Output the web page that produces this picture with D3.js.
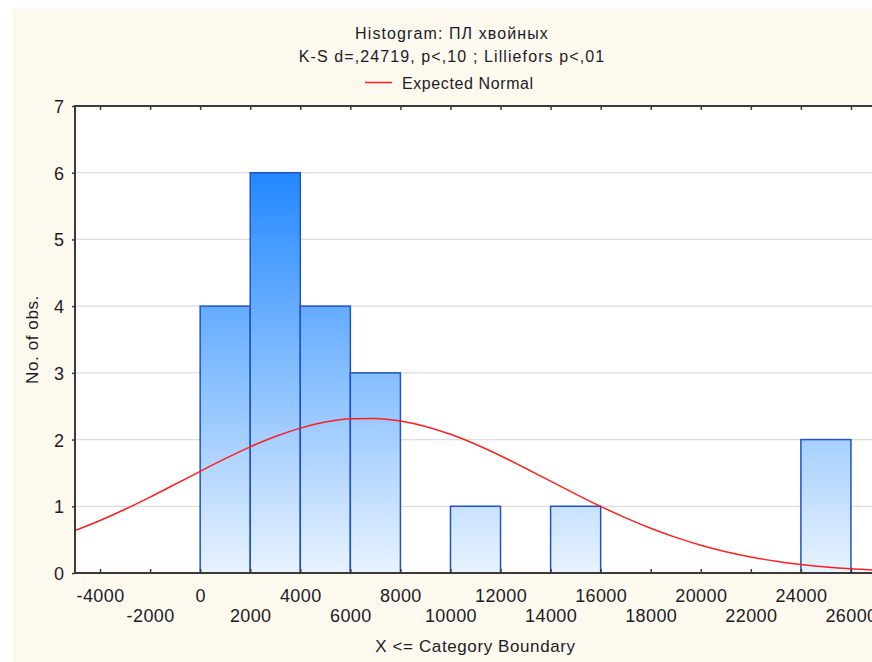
<!DOCTYPE html>
<html>
<head>
<meta charset="utf-8">
<script src="https://cdn.jsdelivr.net/npm/d3@7"></script>
<style>
  html, body { margin: 0; padding: 0; background: #ffffff; }
  svg { display: block; }
  text { font-family: "Liberation Sans", Arial, sans-serif; fill: #1c1c24; }
</style>
</head>
<body>
<svg id="chart" width="872" height="662"></svg>
<script>
// Category upper boundaries (bin width 2000) and observed counts
const boundaries = [2000, 4000, 6000, 8000, 10000, 12000, 14000, 16000, 18000, 20000, 22000, 24000, 26000];
const counts     = [4, 6, 4, 3, 0, 1, 0, 1, 0, 0, 0, 0, 2];
const binWidth = 2000;

// Expected normal curve (expected count per category) sampled along the x axis
const normalX = [-5000, -4000, -3000, -2000, -1000, 0, 1000, 2000, 3000, 4000, 5000, 6000, 7000, 8000,
                 9000, 10000, 11000, 12000, 13000, 14000, 15000, 16000, 17000, 18000, 19000, 20000,
                 21000, 22000, 23000, 24000, 25000, 26000, 27000];
const normalY = [0.636, 0.787, 0.956, 1.138, 1.330, 1.524, 1.714, 1.891, 2.046, 2.172, 2.262, 2.311, 2.317, 2.278,
                 2.197, 2.079, 1.930, 1.758, 1.570, 1.376, 1.183, 0.998, 0.826, 0.670, 0.534, 0.417,
                 0.319, 0.240, 0.177, 0.128, 0.091, 0.063, 0.043];

// Axis ticks
const xTicks = [-4000, -2000, 0, 2000, 4000, 6000, 8000, 10000, 12000, 14000, 16000, 18000, 20000, 22000, 24000, 26000];
const yTicks = [0, 1, 2, 3, 4, 5, 6, 7];

const titleLines = ["Histogram: ПЛ хвойных", "K-S d=,24719, p<,10 ; Lilliefors p<,01"];
const legendLabel = "Expected Normal";
const xTitle = "X <= Category Boundary";
const yTitle = "No. of obs.";

const W = 872, H = 662;
const plot = { left: 75, top: 106, right: 876, bottom: 573 };

const svg = d3.select("#chart");

// Panel background
svg.append("rect").attr("x", 13).attr("y", 8).attr("width", W - 13).attr("height", H - 8)
  .attr("fill", "#fdf9ef");

const x = d3.scaleLinear().domain([-5000, 27000]).range([plot.left, plot.right]);
const y = d3.scaleLinear().domain([0, 7]).range([plot.bottom, plot.top]);

const defs = svg.append("defs");
const grad = defs.append("linearGradient").attr("id", "barFill")
  .attr("gradientUnits", "userSpaceOnUse")
  .attr("x1", 0).attr("x2", 0).attr("y1", y(6)).attr("y2", y(0));
grad.append("stop").attr("offset", "0%").attr("stop-color", "#2288ff");
grad.append("stop").attr("offset", "100%").attr("stop-color", "#e8f3ff");

defs.append("clipPath").attr("id", "plotClip").append("rect")
  .attr("x", plot.left).attr("y", plot.top)
  .attr("width", plot.right - plot.left).attr("height", plot.bottom - plot.top);

// Plot area
svg.append("rect").attr("x", plot.left).attr("y", plot.top)
  .attr("width", plot.right - plot.left).attr("height", plot.bottom - plot.top)
  .attr("fill", "#ffffff");

// Horizontal grid lines
svg.append("g").selectAll("line").data(yTicks.filter(d => d > 0 && d < 7)).join("line")
  .attr("x1", plot.left).attr("x2", plot.right)
  .attr("y1", d => y(d)).attr("y2", d => y(d))
  .attr("stroke", "#dcdcdc").attr("stroke-width", 1.3);

// Histogram bars
const bins = boundaries.map((b, i) => ({ x0: b - binWidth, x1: b, n: counts[i] })).filter(d => d.n > 0);
svg.append("g").attr("clip-path", "url(#plotClip)")
  .selectAll("rect").data(bins).join("rect")
  .attr("x", d => x(d.x0)).attr("width", d => x(d.x1) - x(d.x0))
  .attr("y", d => y(d.n)).attr("height", d => y(0) - y(d.n))
  .attr("fill", "url(#barFill)")
  .attr("stroke", "#2152c6").attr("stroke-width", 1.5);

// Expected normal curve
const line = d3.line().x(d => x(d[0])).y(d => y(d[1])).curve(d3.curveMonotoneX);
svg.append("path").attr("clip-path", "url(#plotClip)")
  .datum(normalX.map((v, i) => [v, normalY[i]]))
  .attr("d", line).attr("fill", "none")
  .attr("stroke", "#ff1f1f").attr("stroke-width", 1.5);

// Axes frame
const axisColor = "#3a3a3a";
const frame = svg.append("g").attr("stroke", axisColor).attr("stroke-width", 2).attr("fill", "none");
frame.append("line").attr("x1", plot.left).attr("x2", plot.left).attr("y1", plot.top - 1).attr("y2", plot.bottom + 1);
frame.append("line").attr("x1", plot.left - 1).attr("x2", plot.right).attr("y1", plot.top).attr("y2", plot.top);
frame.append("line").attr("x1", plot.left - 1).attr("x2", plot.right).attr("y1", plot.bottom).attr("y2", plot.bottom);

// Bottom axis (inward ticks, labels in two staggered rows)
const xAxisBottom = svg.append("g").attr("transform", `translate(0,${plot.bottom})`)
  .call(d3.axisBottom(x).tickValues(xTicks).tickSize(-4).tickPadding(0).tickFormat(d => d));
xAxisBottom.select(".domain").remove();
xAxisBottom.selectAll(".tick line").attr("stroke", axisColor).attr("stroke-width", 1.5);
xAxisBottom.selectAll(".tick text")
  .attr("y", (d, i) => i % 2 === 0 ? 28.5 : 49)
  .attr("dy", 0)
  .style("font-size", "18px").style("letter-spacing", "0.4px")
  .attr("fill", "#1c1c24");

// Top axis (inward ticks only)
const xAxisTop = svg.append("g").attr("transform", `translate(0,${plot.top})`)
  .call(d3.axisTop(x).tickValues(xTicks).tickSize(-4).tickFormat(""));
xAxisTop.select(".domain").remove();
xAxisTop.selectAll(".tick line").attr("stroke", axisColor).attr("stroke-width", 1.5);

// Left axis
const yAxis = svg.append("g").attr("transform", `translate(${plot.left},0)`)
  .call(d3.axisLeft(y).tickValues(yTicks).tickSize(3).tickPadding(8).tickFormat(d3.format("d")));
yAxis.select(".domain").remove();
yAxis.selectAll(".tick line").attr("stroke", axisColor).attr("stroke-width", 1.5);
yAxis.selectAll(".tick text")
  .attr("dy", "0.36em")
  .style("font-size", "18px")
  .attr("fill", "#1c1c24");

// Titles
const cx = 452;
svg.append("text").attr("x", cx).attr("y", 39).attr("text-anchor", "middle")
  .style("font-size", "16px").style("letter-spacing", "1.1px").text(titleLines[0]);
svg.append("text").attr("x", cx).attr("y", 62).attr("text-anchor", "middle")
  .style("font-size", "16px").style("letter-spacing", "1.1px").text(titleLines[1]);

// Legend
svg.append("line").attr("x1", 365).attr("x2", 392).attr("y1", 82.5).attr("y2", 82.5)
  .attr("stroke", "#ff1f1f").attr("stroke-width", 1.5);
svg.append("text").attr("x", 402).attr("y", 88.5)
  .style("font-size", "16px").style("letter-spacing", "0.6px").text(legendLabel);

// Axis titles
svg.append("text").attr("x", (plot.left + plot.right) / 2).attr("y", 652).attr("text-anchor", "middle")
  .style("font-size", "17px").style("letter-spacing", "0.6px").text(xTitle);
svg.append("text").attr("transform", `translate(38,${(plot.top + plot.bottom) / 2}) rotate(-90)`)
  .attr("text-anchor", "middle")
  .style("font-size", "17px").style("letter-spacing", "0.6px").text(yTitle);
</script>
</body>
</html>
